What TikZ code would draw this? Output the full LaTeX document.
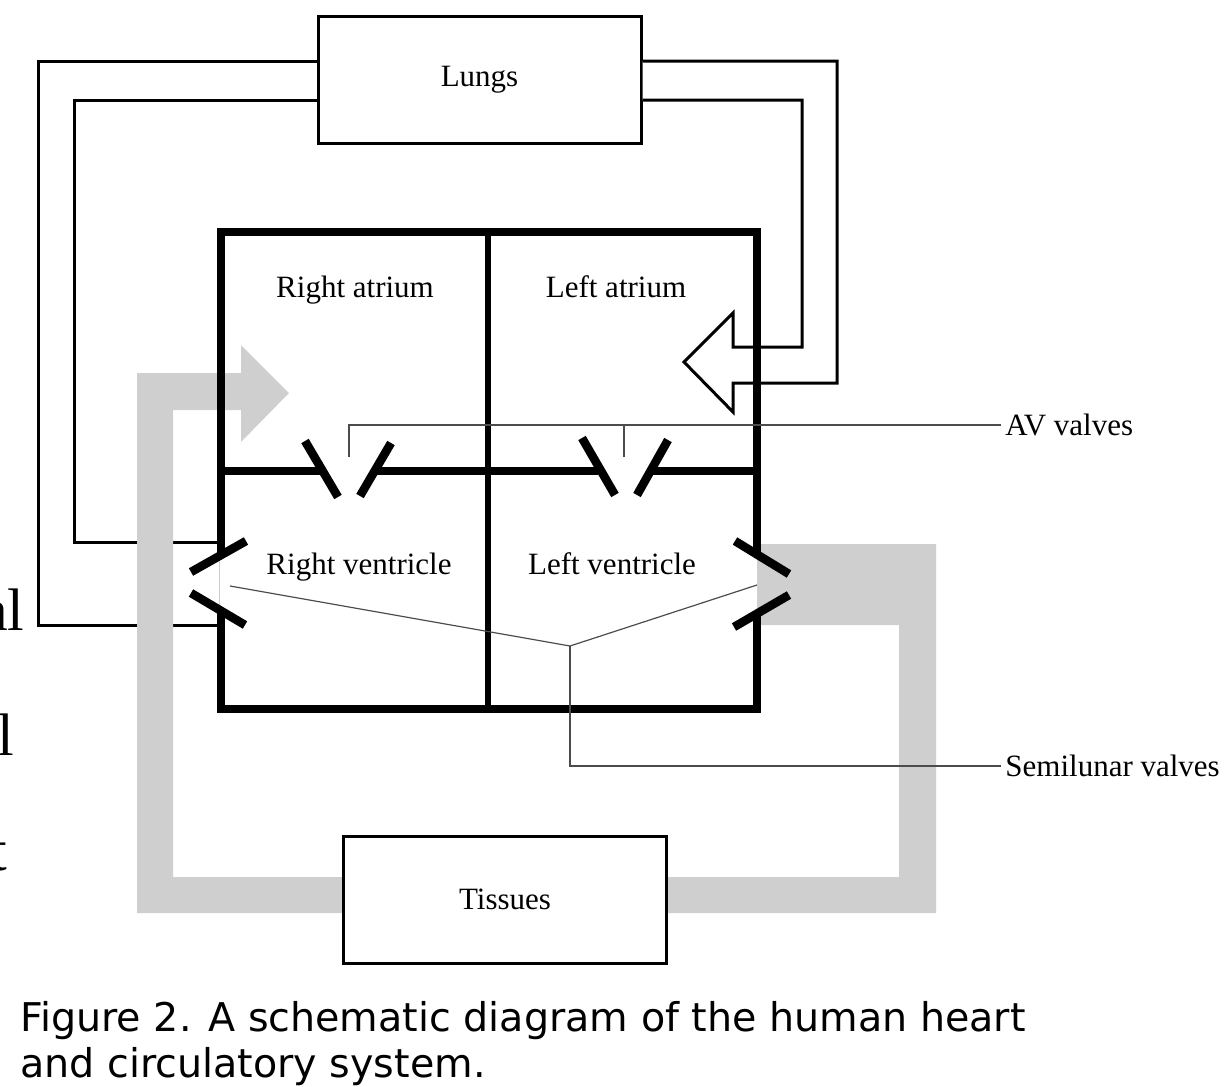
\documentclass[tikz,border=0pt]{standalone}
\usepackage{fontspec}
\setmainfont{Liberation Serif}
\newfontfamily\capfont{DejaVu Sans}
\usetikzlibrary{calc}

\begin{document}
\begin{tikzpicture}[x=0.5pt,y=-0.5pt,
	organ/.style={draw, line width=1.5pt, fill=white, minimum width=161.5pt, minimum height=63.5pt, font=\fontsize{15.5}{18}\selectfont},
	pipe/.style={line width=1.5pt, line join=miter},
	wall/.style={line width=4.3pt, line join=miter},
	flap/.style={line width=4.3pt},
	pointer/.style={line width=0.6pt, draw=black!70},
	chamber/.style={anchor=base, font=\fontsize{15.5}{18}\selectfont},
	tag/.style={anchor=west, inner sep=2pt, font=\fontsize{15.5}{18}\selectfont},
	flow/.style={fill=black!19}]
		\useasboundingbox (0,0) rectangle (1227,1087);
		
		% Organs
		\node[organ] (lungs) at (479.5,79.5) {Lungs};
		
		% Pulmonary circuit
		\draw[pipe] (lungs.west |- 0,61) -| (38,625) -- (221,625);
		\draw[pipe] (lungs.west |- 0,100) -| (74,542) -- (221,542);
		\draw[pipe, fill=white] (lungs.east |- 0,100) -| (802,347) -- (733,347) -- (733,313) -- (684,362) -- (733,412) -- (733,383) -| (837,61) -- (lungs.east |- 0,61);
		
		% Systemic circuit
		\fill[flow] (757,544) -- (936,544) -- (936,913) -- (137,913) -- (137,373) -- (241,373) -- (241,345) -- (289,393) -- (241,442) -- (241,410) -- (173,410) -- (173,877) -- (899,877) -- (899,625) -- (757,625) -- cycle;
		\node[organ] (tissues) at (505,899.5) {Tissues};
		
		% Heart walls
		\draw[wall] (221,556) -- (221,232) -- (757,232) -- (757,554);
		\draw[wall] (757,614) -- (757,709) -- (221,709) -- (221,610);
		\draw[line width=2.6pt] (488,232) -- (488,709);
		\foreach \xa/\xb in {221/323,375/598,652/757}
		\draw[wall] (\xa,471) -- (\xb,471);
		\draw[black!20, line width=0.4pt] (219,556) -- (219,610);
		
		% Valve flaps
		\foreach \xa/\ya/\xb/\yb in {305/441/338/497, 391/443/360/496, 582/438/615/495, 668/440/637/495, 191/572/246/541, 191/593/245/625, 735/541/789/574, 789/595/734/627}
		\draw[flap] (\xa,\ya) -- (\xb,\yb);
		
		% Chambers
		\node[chamber] (ra) at (355,297) {Right atrium};
		\node[chamber] (la) at (616,297) {Left atrium};
		\node[chamber] (rv) at (359,574) {Right ventricle};
		\node[chamber] (lv) at (612,574) {Left ventricle};
		
		% Pointers
		\node[tag] (av) at (1001,425) {AV valves};
		\node[tag] (sl) at (1001,766) {Semilunar valves};
		\coordinate (avl) at (349,457);
		\coordinate (avr) at (624,457);
		\coordinate (slj) at (570,646);
		\draw[pointer] (avl) |- (av.west);
		\draw[pointer] (avr) -- (avr |- av.west);
		\draw[pointer] (230,586) -- (slj) -- (757,585);
		\draw[pointer] (slj) |- (sl.west);
		
		% Cut text
		\foreach \t/\x/\y in {al/25/630, l/15/755, t/8/870}
		\node[anchor=base east, inner sep=0, font=\fontsize{30}{36}\selectfont] (frag\t) at (\x,\y) {\t};
		
		% Caption
		\node[anchor=base west, inner sep=0, font=\capfont\fontsize{19.8}{22.5}\selectfont] (cap1) at (20,1031) {Figure 2. A schematic diagram of the human heart};
		\node[anchor=base west, inner sep=0, font=\capfont\fontsize{19.8}{22.5}\selectfont] (cap2) at (20,1077) {and circulatory system.};
	\end{tikzpicture}
\end{document}
